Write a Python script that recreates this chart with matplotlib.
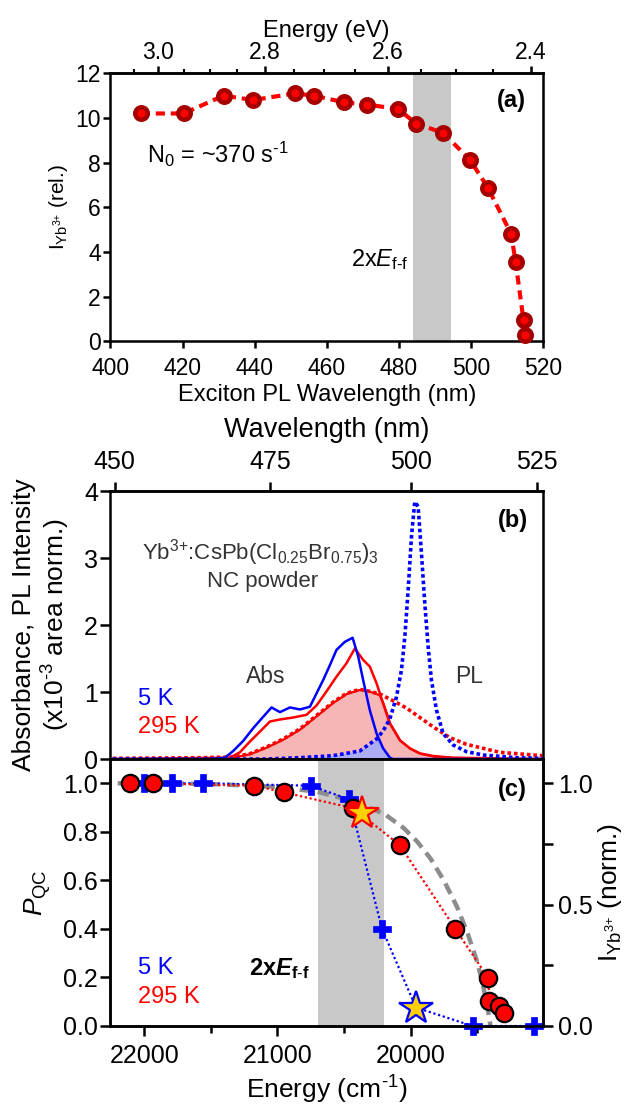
import numpy as np
import matplotlib
matplotlib.use('Agg')
import matplotlib.pyplot as plt
from matplotlib.ticker import MultipleLocator, FixedLocator, FormatStrFormatter

plt.rcParams['font.family'] = ['Liberation Sans', 'DejaVu Sans']
plt.rcParams['mathtext.fontset'] = 'custom'
plt.rcParams['mathtext.rm'] = 'Liberation Sans'
plt.rcParams['mathtext.it'] = 'Liberation Sans:italic'
plt.rcParams['mathtext.bf'] = 'Liberation Sans:bold'
plt.rcParams['mathtext.bfit'] = 'Liberation Sans:italic:bold'
plt.rcParams['axes.linewidth'] = 1.8

# (a) Yb3+ emission vs exciton PL wavelength
wl_a = [408.4, 420.3, 431.4, 439.6, 451.1, 456.4, 464.8, 471.2, 479.8, 484.8,
        492.3, 499.7, 504.7, 511.2, 512.4, 514.6, 514.9]
I_a = [10.2, 10.2, 11.0, 10.8, 11.1, 11.0, 10.7, 10.6, 10.4, 9.75,
       9.33, 8.14, 6.88, 4.8, 3.55, 0.95, 0.3]
band_nm = (484.0, 494.5)

# (b) absorption / PL spectra vs energy (cm-1)
E_abs5 = [22237, 21500, 21394, 21332, 21257, 21182, 21107, 21044, 20981, 20906,
          20831, 20756, 20706, 20656, 20606, 20556, 20493, 20435, 20393, 20356,
          20306, 20255, 20206, 20155, 20131, 19010]
A_abs5 = [0.0, 0.0, 0.02, 0.12, 0.27, 0.46, 0.63, 0.77, 0.70, 0.77,
          0.74, 0.78, 0.98, 1.18, 1.40, 1.63, 1.75, 1.81, 1.53, 1.18,
          0.73, 0.38, 0.16, 0.02, 0.0, 0.0]

E_abs295 = [22237, 21357, 21282, 21207, 21131, 21056, 20981, 20881, 20781, 20706,
            20631, 20556, 20481, 20418, 20356, 20306, 20255, 20206, 20155, 20080,
            20005, 19930, 19830, 19680, 19010]
A_abs295 = [0.0, 0.02, 0.10, 0.26, 0.41, 0.56, 0.59, 0.62, 0.66, 0.80,
            1.01, 1.23, 1.43, 1.65, 1.48, 1.38, 1.13, 0.83, 0.53, 0.28,
            0.16, 0.085, 0.045, 0.02, 0.0]

E_pl5 = [22237, 21081, 20831, 20581, 20381, 20255, 20206, 20155, 20105, 20068,
         20043, 20018, 19993, 19968, 19943, 19918, 19893, 19868, 19843, 19805,
         19755, 19680, 19580, 19455, 19205, 19010]
L_pl5 = [0.0, 0.0, 0.02, 0.05, 0.12, 0.30, 0.42, 0.60, 0.93, 1.33,
         1.82, 2.52, 3.32, 3.84, 3.77, 3.07, 2.33, 1.68, 1.18, 0.73,
         0.38, 0.21, 0.11, 0.06, 0.02, 0.01]

E_pl295 = [22237, 21582, 21332, 21207, 21081, 20956, 20831, 20706, 20581, 20481,
           20381, 20306, 20230, 20131, 20030, 19930, 19830, 19705, 19580, 19330,
           19010]
L_pl295 = [0.01, 0.02, 0.03, 0.08, 0.18, 0.30, 0.45, 0.65, 0.85, 0.98,
           1.04, 1.01, 0.97, 0.87, 0.76, 0.62, 0.48, 0.32, 0.22, 0.10,
           0.05]

# spectral overlap (abs x PL) regions
E_ov295 = [21582, 21332, 21207, 21081, 20956, 20831, 20706, 20581, 20481, 20381,
           20306, 20235, 20206, 20155, 20080, 20005, 19930, 19830, 19680, 19400]
O_ov295 = [0.0, 0.03, 0.08, 0.18, 0.30, 0.45, 0.65, 0.85, 0.98, 1.04,
           1.01, 0.96, 0.83, 0.53, 0.28, 0.16, 0.085, 0.045, 0.02, 0.0]
E_ov5 = [20900, 20831, 20581, 20381, 20300, 20240, 20206, 20155, 20131]
O_ov5 = [0.0, 0.01, 0.05, 0.12, 0.22, 0.32, 0.16, 0.02, 0.0]

# (c) quantum cutting efficiency vs exciton energy
E_295 = [22107, 21938, 21173, 20952, 20429, 20080, 19663, 19416, 19408, 19333, 19301]
P_295 = [1.0, 1.0, 0.99, 0.963, 0.897, 0.745, 0.40, 0.197, 0.103, 0.083, 0.052]
E_5 = [22000, 21793, 21562, 20751, 20461, 20214, 19534, 19075]
P_5 = [1.0, 1.0, 1.0, 0.99, 0.934, 0.40, 0.0, 0.0]
E_star295, P_star295 = 20361, 0.876
E_star5, P_star5 = 19959, 0.076
E_model = [22200, 21800, 21400, 21000, 20700, 20450, 20200, 20050, 19950, 19850,
           19750, 19650, 19570, 19500, 19460, 19430, 19410, 19400]
P_model = [1.0, 1.0, 0.995, 0.985, 0.965, 0.93, 0.875, 0.815, 0.76, 0.69,
           0.60, 0.49, 0.38, 0.265, 0.18, 0.10, 0.04, 0.0]
band_cm = (20200, 20692)


def nm2ev(x):
    x = np.asarray(x, dtype=float)
    return 1239.84 / np.where(x == 0, 1e-9, x)


def cm2nm(x):
    x = np.asarray(x, dtype=float)
    return 1e7 / np.where(x == 0, 1e-9, x)


fig = plt.figure(figsize=(6.27, 11.05), dpi=100)
ax_a = fig.add_axes([0.1762, 0.6910, 0.6898, 0.2427])
ax_b = fig.add_axes([0.1762, 0.3131, 0.6898, 0.2425])
ax_c = fig.add_axes([0.1762, 0.0715, 0.6898, 0.2416], sharex=ax_b)

# ---- panel (a)
ax_a.axvspan(band_nm[0], band_nm[1], color='#c8c8c8', lw=0, zorder=0)
ax_a.plot(wl_a, I_a, color='#ff0000', lw=3.0, ls=(0, (2.2, 1.4)),
          marker='o', ms=9, mfc='#ff0000', mec='#a50000', mew=3.2,
          clip_on=False, zorder=3)
ax_a.set_xlim(400, 520)
ax_a.set_ylim(0, 12)
ax_a.xaxis.set_major_locator(MultipleLocator(20))
ax_a.yaxis.set_major_locator(MultipleLocator(2))
ax_a.tick_params(axis='both', direction='out', length=5, width=1.8, labelsize=16.5)
ax_a.tick_params(axis='x', pad=6)
ax_a.tick_params(axis='y', pad=2)
ax_a.set_xlabel('Exciton PL Wavelength (nm)', fontsize=17, labelpad=3)
ax_a.set_ylabel(r'I$_{\mathregular{Yb}^{\text{3+}}}$ (rel.)', fontsize=15,
                va='center', ha='center')
ax_a.yaxis.set_label_coords(-0.12, 0.5)

top_a = ax_a.secondary_xaxis('top', functions=(nm2ev, nm2ev))
top_a.set_xticks([3.0, 2.8, 2.6, 2.4])
top_a.xaxis.set_major_formatter(FormatStrFormatter('%.1f'))
top_a.xaxis.set_minor_locator(MultipleLocator(0.05))
top_a.tick_params(which='major', direction='out', length=5, width=1.8,
                  labelsize=16.5, pad=1.5)
top_a.tick_params(which='minor', direction='out', length=3, width=1.5)
top_a.set_xlabel('Energy (eV)', fontsize=17, labelpad=3)

ax_a.text(0.926, 0.897, '(a)', transform=ax_a.transAxes, fontsize=17,
          fontweight='bold', ha='center', va='center')
ax_a.text(0.084, 0.667, r'N$_0$ = ~370 s$^{\text{-1}}$', transform=ax_a.transAxes,
          fontsize=17, ha='left', va='baseline')
ax_a.text(0.688, 0.2815, r'2x$E_{\text{f-f}}$', transform=ax_a.transAxes,
          fontsize=17, ha='right', va='baseline')

# ---- panel (b)
ax_b.fill_between(E_ov295, 0, O_ov295, facecolor='#f6b6b6', edgecolor='#ff0000',
                  lw=1.6, zorder=1)
ax_b.fill_between(E_ov5, 0, O_ov5, facecolor='#adadf5', edgecolor='none', zorder=1.5)
ax_b.plot(E_pl295, L_pl295, color='#ff0000', lw=2.6, ls=(0, (1, 0.8)), zorder=2)
ax_b.plot(E_abs295, A_abs295, color='#ff0000', lw=1.8, zorder=3)
ax_b.plot(E_pl5, L_pl5, color='#0000ff', lw=2.6, ls=(0, (1, 0.8)), zorder=3)
ax_b.plot(E_abs5, A_abs5, color='#0000ff', lw=1.8, zorder=4)
ax_b.set_xlim(22254, 19005)
ax_b.set_ylim(0, 4)
ax_b.yaxis.set_major_locator(MultipleLocator(1))
ax_b.xaxis.set_major_locator(MultipleLocator(1000))
ax_b.xaxis.set_minor_locator(MultipleLocator(500))
ax_b.tick_params(axis='x', which='both', direction='out', length=5, width=1.8,
                 labelbottom=False)
ax_b.tick_params(axis='y', direction='out', length=7, width=1.8, labelsize=18, pad=2)
ax_b.set_ylabel('Absorbance, PL Intensity\n' + r'(x10$^{\text{-3}}$ area norm.)',
                fontsize=19, va='center', ha='center', multialignment='center',
                linespacing=1.15)
ax_b.yaxis.set_label_coords(-0.158, 0.5)

top_b = ax_b.secondary_xaxis('top', functions=(cm2nm, cm2nm))
top_b.set_xticks([450, 475, 500, 525])
top_b.tick_params(direction='out', length=6.5, width=1.8, labelsize=18, pad=6)
top_b.set_xlabel('Wavelength (nm)', fontsize=19.5, labelpad=9)

ax_b.text(0.93, 0.892, '(b)', transform=ax_b.transAxes, fontsize=17,
          fontweight='bold', ha='center', va='center')
ax_b.text(0.346, 0.745, r'Yb$^{\text{3+}}$:CsPb(Cl$_{\text{0.25}}$Br$_{\text{0.75}}$)$_{\text{3}}$',
          transform=ax_b.transAxes, fontsize=16, color='#333333', ha='center', va='baseline')
ax_b.text(0.351, 0.643, 'NC powder', transform=ax_b.transAxes, fontsize=16,
          color='#333333', ha='center', va='baseline')
ax_b.text(0.36, 0.285, 'Abs', transform=ax_b.transAxes, fontsize=16.5,
          color='#333333', ha='center', va='baseline')
ax_b.text(0.829, 0.285, 'PL', transform=ax_b.transAxes, fontsize=16.5,
          color='#333333', ha='center', va='baseline')
ax_b.text(0.064, 0.2015, '5 K', transform=ax_b.transAxes, fontsize=17,
          color='#0000ff', ha='left', va='baseline')
ax_b.text(0.064, 0.096, '295 K', transform=ax_b.transAxes, fontsize=17,
          color='#ff0000', ha='left', va='baseline')

# ---- panel (c)
ax_c.axvspan(band_cm[0], band_cm[1], color='#c8c8c8', lw=0, zorder=0)
ax_c.plot(E_model, P_model, color='#8c8c8c', lw=3.2, ls=(0, (2.6, 1.5)), zorder=2)
ax_c.plot(E_5[:6] + [E_star5] + E_5[6:], P_5[:6] + [P_star5] + P_5[6:],
          color='#0000ff', lw=1.6, ls=(0, (1, 1.2)), zorder=3)
ax_c.plot(E_295, P_295, color='#ff0000', lw=1.6, ls=(0, (1, 1.2)), zorder=3)
ax_c.plot(E_5, P_5, ls='none', marker='P', ms=13, mfc='#0000ff', mec='#0000ff',
          mew=0.5, clip_on=False, zorder=4)
ax_c.plot(E_295, P_295, ls='none', marker='o', ms=12.5, mfc='#ff0000', mec='black',
          mew=1.6, clip_on=False, zorder=5)
ax_c.plot([E_star295], [P_star295], ls='none', marker='*', ms=25, mfc='#ffd000',
          mec='#ff0000', mew=1.6, zorder=6)
ax_c.plot([E_star5], [P_star5], ls='none', marker='*', ms=25, mfc='#ffd000',
          mec='#0000ff', mew=1.6, zorder=6)
ax_c.set_ylim(0, 1.1)
ax_c.yaxis.set_major_locator(FixedLocator([0, 0.2, 0.4, 0.6, 0.8, 1.0]))
ax_c.yaxis.set_major_formatter(FormatStrFormatter('%.1f'))
ax_c.xaxis.set_major_formatter(FormatStrFormatter('%d'))
ax_c.tick_params(axis='x', which='major', direction='out', length=7, width=1.8,
                 labelsize=18, pad=6, top=False)
ax_c.tick_params(axis='x', which='minor', direction='out', length=5, width=1.8, top=False)
ax_c.tick_params(axis='y', direction='out', length=7, width=1.8, labelsize=18, pad=2)
ax_c.set_xlabel(r'Energy (cm$^{\text{-1}}$)', fontsize=19, labelpad=4)
ax_c.set_ylabel(r'$P_{\text{QC}}$', fontsize=19, va='center', ha='center')
ax_c.yaxis.set_label_coords(-0.168, 0.5)

ax_r = ax_c.twinx()
ax_r.set_ylim(0, 1.1)
ax_r.yaxis.set_major_locator(FixedLocator([0, 0.5, 1.0]))
ax_r.yaxis.set_minor_locator(FixedLocator([0.25, 0.75]))
ax_r.yaxis.set_major_formatter(FormatStrFormatter('%.1f'))
ax_r.tick_params(axis='y', which='both', direction='out', length=7, width=1.8,
                 labelsize=18, pad=4)
ax_r.set_ylabel(r'I$_{\mathregular{Yb}^{\text{3+}}}$ (norm.)', fontsize=19,
                va='center', ha='center')
ax_r.yaxis.set_label_coords(1.155, 0.5)

ax_c.text(0.928, 0.884, '(c)', transform=ax_c.transAxes, fontsize=17,
          fontweight='bold', ha='center', va='center')
ax_c.text(0.064, 0.195, '5 K', transform=ax_c.transAxes, fontsize=17,
          color='#0000ff', ha='left', va='baseline')
ax_c.text(0.064, 0.087, '295 K', transform=ax_c.transAxes, fontsize=17,
          color='#ff0000', ha='left', va='baseline')
ax_c.text(0.321, 0.191, r'2x$\mathbfit{E}_{\mathbf{f}\text{-}\mathbf{f}}$',
          transform=ax_c.transAxes, fontsize=17, fontweight='bold',
          ha='left', va='baseline')

fig.savefig('out.png', dpi=100)
